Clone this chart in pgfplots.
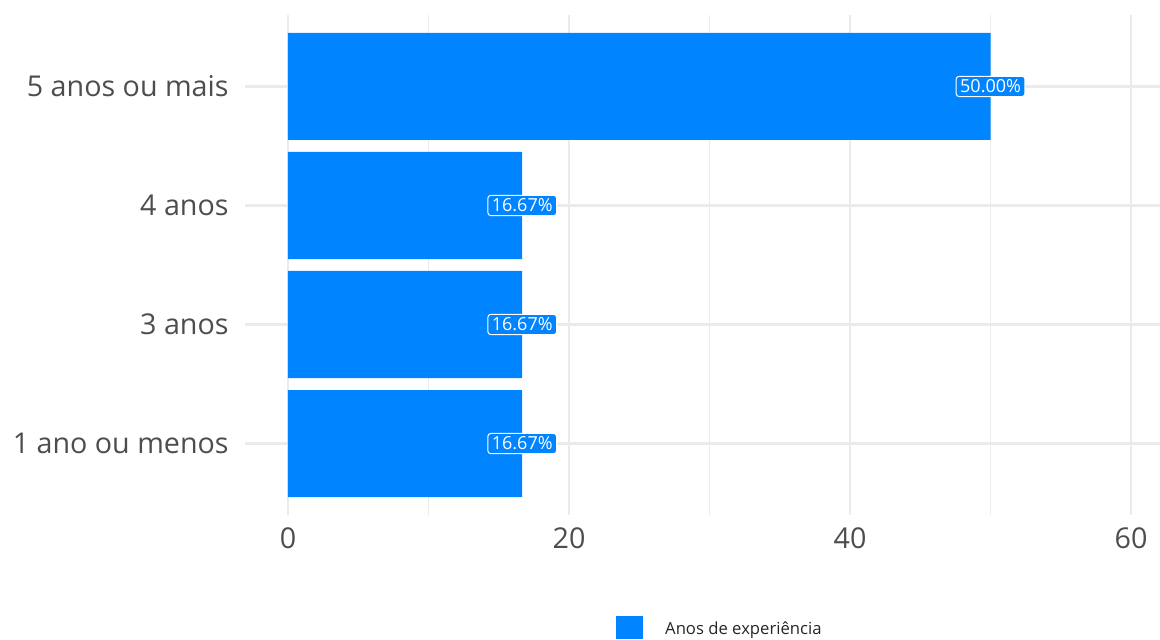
\documentclass[border=0pt]{standalone}
\usepackage{pgfplots}
\pgfplotsset{compat=1.18}
\usepackage{fontspec}
\setmainfont{Open Sans}
\definecolor{barblue}{HTML}{0084FF}
\definecolor{gridgray}{HTML}{EBEBEB}
\definecolor{ticktext}{HTML}{4D4D4D}
\newlength{\px}\setlength{\px}{0.75pt}
\begin{document}
\begin{tikzpicture}
\useasboundingbox (-245\px,-124\px) rectangle (915\px,515\px);
\begin{axis}[
  at={(0,0)}, anchor=south west,
  scale only axis,
  width=915\px, height=500\px,
  xmin=-3.06, xmax=62.06,
  ymin=0.4, ymax=4.6,
  xbar, bar width=0.9,
  bar shift=0pt,
  axis line style={draw=none},
  tick style={draw=none},
  xtick={0,20,40,60},
  minor xtick={10,30,50},
  ytick={1,2,3,4},
  yticklabels={1 ano ou menos,3 anos,4 anos,5 anos ou mais},
  grid=both,
  major grid style={gridgray, line width=2.4\px},
  minor grid style={gridgray, line width=1.3\px},
  ticklabel style={font=\fontsize{21.5pt}{24pt}\selectfont, text=ticktext},
  /pgf/number format/assume math mode=true,
  yticklabel style={xshift=-6\px},
  xticklabel style={yshift=-8\px},
  point meta=x,
  nodes near coords={\pgfmathprintnumber[fixed,fixed zerofill,precision=2]{\pgfplotspointmeta}\%},
  every node near coord/.append style={anchor=center, fill=barblue, draw=white, rounded corners=3\px, line width=1\px, text=white, font=\fontsize{13.5pt}{15pt}\selectfont, inner xsep=4\px, inner ysep=3.5\px},
  legend style={at={(0.519,-0.226)}, anchor=center, draw=none, fill=none, font=\fontsize{12.5pt}{14pt}\selectfont, text=black!85},
  legend image code/.code={\fill[barblue] (0pt,-10\px) rectangle (27\px,13\px);},
  legend cell align=left,
]
\addplot[fill=barblue, draw=none] coordinates {(16.67,1) (16.67,2) (16.67,3) (50,4)};
\addlegendentry{\hspace{20\px}Anos de experiência}
\end{axis}
\end{tikzpicture}
\end{document}
